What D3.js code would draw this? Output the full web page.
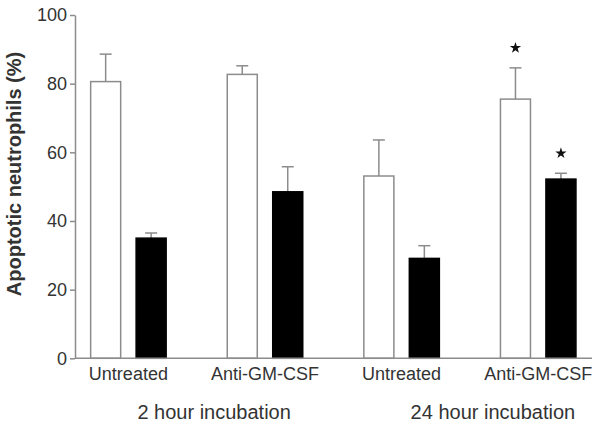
<!DOCTYPE html>
<html>
<head>
<meta charset="utf-8">
<script src="https://cdn.jsdelivr.net/npm/d3@7"></script>
<style>
  html, body { margin: 0; padding: 0; background: #fff; }
  svg { display: block; }
  text { font-family: "Liberation Sans", Arial, Helvetica, sans-serif; fill: #333; }
</style>
</head>
<body>
<svg id="chart" width="601" height="426"></svg>
<script>
// ---- data ----
const categories = ["2h-Untreated", "2h-Anti", "24h-Untreated", "24h-Anti"];
const categoryLabels = ["Untreated", "Anti-GM-CSF", "Untreated", "Anti-GM-CSF"];
const groups = ["2 hour incubation", "24 hour incubation"];
const groupFirstCategory = ["2h-Untreated", "24h-Untreated"];
const series = ["open", "filled"];
const openValues = [80.6, 82.7, 53.1, 75.5];
const openErrors = [8.0, 2.5, 10.5, 9.1];
const filledValues = [35.0, 48.5, 29.1, 52.2];
const filledErrors = [1.5, 7.3, 3.7, 1.7];
const openStars = [false, false, false, true];
const filledStars = [false, false, false, true];
const yTicks = [0, 20, 40, 60, 80, 100];
const yTitle = "Apoptotic neutrophils (%)";

// ---- layout ----
const svg = d3.select("#chart");
const axisColor = "#8c8c8c";
const plotLeft = 75, plotRight = 592, plotTop = 15, plotBottom = 358.3;

const y = d3.scaleLinear().domain([0, 100]).range([plotBottom, plotTop]);
const x = d3.scalePoint().domain(categories).range([128.4, 538.2]);
const inner = d3.scaleBand().domain(series).range([-37.75, 37.75]).paddingInner(0.34);

const rows = [];
categories.forEach((c, i) => {
  rows.push({cat: c, s: "open", v: openValues[i], e: openErrors[i], star: openStars[i]});
  rows.push({cat: c, s: "filled", v: filledValues[i], e: filledErrors[i], star: filledStars[i]});
});
const bx = d => x(d.cat) + inner(d.s);
const bc = d => bx(d) + inner.bandwidth() / 2;

// error bars (behind bars)
const eg = svg.append("g");
eg.selectAll("line.v").data(rows).join("line")
  .attr("x1", bc).attr("x2", bc)
  .attr("y1", d => y(d.v)).attr("y2", d => y(d.v + d.e))
  .attr("stroke", axisColor).attr("stroke-width", 1.5);
eg.selectAll("line.c").data(rows).join("line")
  .attr("x1", d => bc(d) - 6).attr("x2", d => bc(d) + 6)
  .attr("y1", d => y(d.v + d.e)).attr("y2", d => y(d.v + d.e))
  .attr("stroke", axisColor).attr("stroke-width", 1.5);

// bars
svg.append("g").selectAll("rect").data(rows).join("rect")
  .attr("x", bx).attr("width", inner.bandwidth())
  .attr("y", d => y(d.v)).attr("height", d => y(0) - y(d.v))
  .attr("fill", d => d.s === "open" ? "#fff" : "#000")
  .attr("stroke", d => d.s === "open" ? axisColor : "#000")
  .attr("stroke-width", 1.5);

// stars
svg.append("g").selectAll("path").data(rows.filter(d => d.star)).join("path")
  .attr("d", d3.symbol(d3.symbolStar, 40))
  .attr("transform", d => `translate(${bc(d)},${y(d.v + d.e) - 20})`)
  .attr("fill", "#111");

// y axis
const yAxis = svg.append("g").attr("transform", `translate(${plotLeft},0)`)
  .call(d3.axisLeft(y).tickValues(yTicks).tickSize(5).tickPadding(3).tickSizeOuter(0));
yAxis.select(".domain").attr("stroke", axisColor).attr("stroke-width", 1.5);
yAxis.selectAll(".tick line").attr("stroke", axisColor).attr("stroke-width", 1.5);
yAxis.selectAll(".tick text").style("font-size", "18px").attr("fill", "#333")
  .style("font-family", "'Liberation Sans', Arial, sans-serif");

// x axis line
svg.append("line")
  .attr("x1", plotLeft).attr("x2", plotRight)
  .attr("y1", y(0)).attr("y2", y(0))
  .attr("stroke", axisColor).attr("stroke-width", 1.5);

// category labels
svg.append("g").selectAll("text").data(categories).join("text")
  .attr("x", d => x(d)).attr("y", 380)
  .attr("text-anchor", "middle")
  .style("font-size", "18px")
  .text((d, i) => categoryLabels[i]);

// group labels
svg.append("g").selectAll("text").data(groups).join("text")
  .attr("x", (d, i) => x(groupFirstCategory[i]) + 9).attr("y", 419)
  .attr("text-anchor", "start")
  .style("font-size", "20px")
  .text(d => d);

// y title
svg.append("text")
  .attr("transform", `translate(21,174) rotate(-90)`)
  .attr("text-anchor", "middle")
  .style("font-size", "20px").style("font-weight", "bold").attr("fill", "#111")
  .text(yTitle);
</script>
</body>
</html>
